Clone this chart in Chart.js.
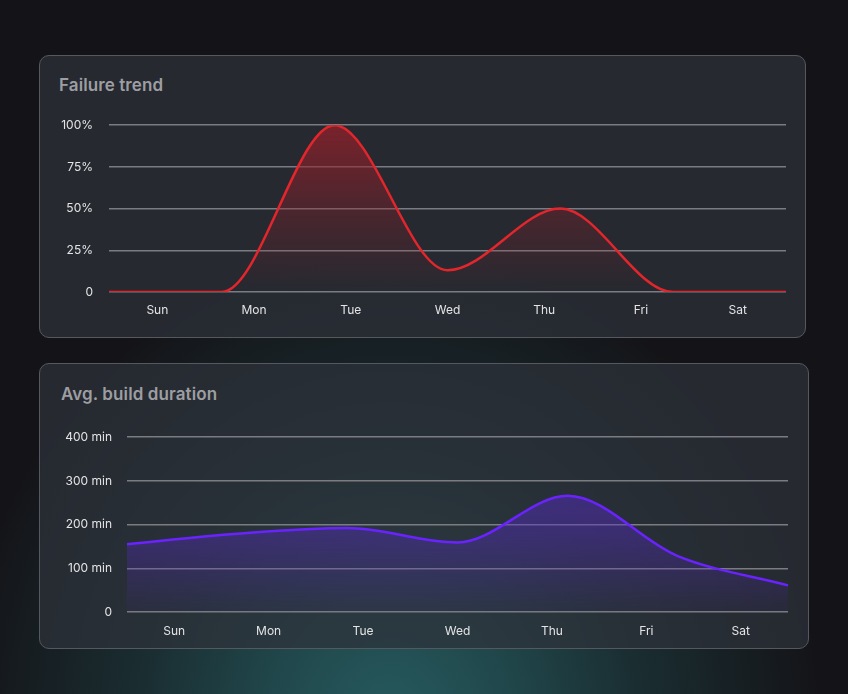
<!DOCTYPE html>
<html>
<head>
<meta charset="utf-8">
<script src="https://cdn.jsdelivr.net/npm/chart.js@4.4.1/dist/chart.umd.min.js"></script>
<style>
  html, body { margin:0; padding:0; }
  body {
    width:848px; height:694px; position:relative; overflow:hidden;
    background-color:#141418;
    font-family: Inter, "Noto Sans", sans-serif;
  }
  .bg { position:absolute; inset:0; background: radial-gradient(ellipse 430px 470px at 390px 720px, rgba(38,90,94,1) 0%, rgba(33,74,78,0.95) 28%, rgba(27,48,52,0.9) 58%, rgba(20,20,24,1) 100%); }
  .card {
    position:absolute; border:1px solid #55585e; border-radius:10px; box-sizing:border-box;
    background: rgba(46,50,58,0.72);
  }
  .title { position:absolute; font-size:17px; font-weight:600; color:#9d9ea2; letter-spacing:0.1px; }
  canvas { position:absolute; }
</style>
</head>
<body>
<div class="bg"></div>
<div class="card" style="left:39px;top:55px;width:767px;height:283px;"></div>
<div class="card" style="left:39px;top:363px;width:770px;height:286px;"></div>
<div class="title" style="left:59px;top:75px;">Failure trend</div>
<div class="title" style="left:61px;top:384px;">Avg. build duration</div>
<div style="position:absolute;left:50px;top:102px;width:745px;height:227px;"><canvas id="c1"></canvas></div>
<div style="position:absolute;left:50px;top:415px;width:748px;height:234px;"><canvas id="c2"></canvas></div>
<script>
const days = ["Sun","Mon","Tue","Wed","Thu","Fri","Sat"];
const failureRate = [0, 0, 100, 13, 50, 0, 0];
const failureTicks = [0, 25, 50, 75, 100];
const buildMinutes = [155, 179, 192, 159, 266, 128, 61];
const buildTicks = [0, 100, 200, 300, 400];

function grad(ctx, chartArea, rgb, a0, a1, a2) {
  const g = ctx.createLinearGradient(0, chartArea.top, 0, chartArea.bottom);
  g.addColorStop(0, 'rgba(' + rgb + ',' + a0 + ')');
  g.addColorStop(0.55, 'rgba(' + rgb + ',' + a1 + ')');
  g.addColorStop(1, 'rgba(' + rgb + ',' + a2 + ')');
  return g;
}

function makeChart(id, data, color, fillRgb, alphas, yMax, yStep, yFmt, yWidth, xHeight, pad, tickPadY, tickPadX) {
  return new Chart(document.getElementById(id), {
    type: 'line',
    data: {
      labels: days,
      datasets: [{
        data: data,
        xAxisID: 'xd',
        borderColor: color,
        borderWidth: 2.5,
        pointRadius: 0,
        cubicInterpolationMode: 'monotone',
        fill: 'origin',
        backgroundColor: (c) => {
          const a = c.chart.chartArea;
          if (!a) return 'transparent';
          return grad(c.chart.ctx, a, fillRgb, alphas[0], alphas[1], alphas[2]);
        }
      }]
    },
    options: {
      responsive: true,
      maintainAspectRatio: false,
      animation: false,
      layout: { padding: pad },
      plugins: { legend: { display: false }, tooltip: { enabled: false } },
      scales: {
        xd: { type: 'category', display: false, offset: false },
        x: {
          type: 'category', offset: true,
          grid: { display: false, drawTicks: false },
          border: { display: false },
          ticks: { color: '#e4e4e6', font: { family: 'Inter', size: 12 }, padding: tickPadX, maxRotation: 0 },
          afterFit: (s) => { s.height = xHeight; }
        },
        y: {
          min: 0, max: yMax,
          grid: { color: '#7a7c81', lineWidth: 1.5, drawTicks: false },
          border: { display: false },
          ticks: {
            stepSize: yStep, color: '#e4e4e6', font: { family: 'Inter', size: 12 }, padding: tickPadY,
            callback: yFmt
          },
          afterFit: (s) => { s.width = yWidth; }
        }
      }
    }
  });
}

makeChart('c1', failureRate, '#e3262c', '150,32,42', [0.75, 0.3, 0.0], failureTicks[failureTicks.length-1], failureTicks[1],
  (v) => v === 0 ? '0' : v + '%', 59, 37, { top: 0, right: 9, left: 0, bottom: 0 }, 16, 11);

makeChart('c2', buildMinutes, '#6a23ff', '88,44,200', [0.6, 0.4, 0.05], buildTicks[buildTicks.length-1], buildTicks[1],
  (v) => v === 0 ? '0' : v + ' min', 77, 37, { top: 0, right: 10, left: 0, bottom: 0 }, 15, 12);
</script>
</body>
</html>
